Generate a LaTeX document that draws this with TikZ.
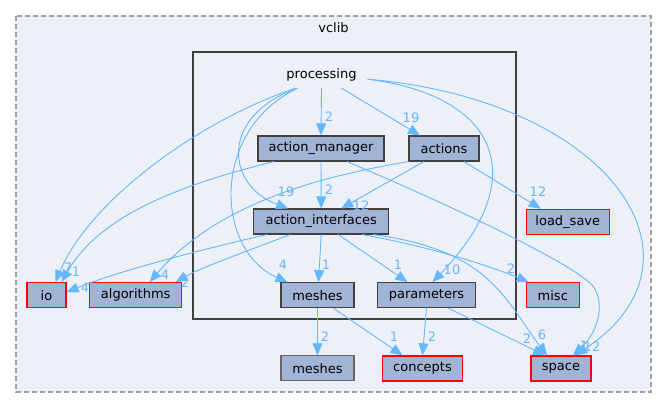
\documentclass[tikz,border=0pt]{standalone}
\usepackage{fontspec}
\setmainfont{DejaVu Sans}
\usetikzlibrary{arrows.meta}
\definecolor{edgec}{HTML}{63B8FF}
\definecolor{nodefill}{HTML}{A2B4D6}
\definecolor{clusterfill}{HTML}{EDF0F7}
\definecolor{darkb}{HTML}{404040}
\definecolor{dashc}{HTML}{A0A0A0}
\begin{document}
\begin{tikzpicture}[x=1pt,y=-1pt,
  dirnode/.style={draw=darkb, fill=nodefill, line width=1.1pt, minimum height=25pt, inner sep=0pt, font=\fontsize{13}{15}\selectfont, text=black},
  rednode/.style={dirnode, draw=red, line width=1.3pt},
  dep/.style={draw=edgec, line width=0.9pt, -{Triangle[length=12pt,width=10pt]}},
  lbl/.style={text=edgec, font=\fontsize{13}{15}\selectfont, inner sep=0pt}]
\useasboundingbox (0,0) rectangle (668,408);
\draw[dashc, dash pattern=on 5pt off 3pt, line width=1.3pt, fill=clusterfill] (16,16) rectangle (651,392);
\node[font=\fontsize{13}{15}\selectfont] (vclib) at (333.5,28) {vclib};
\draw[darkb, line width=2pt, fill=clusterfill] (193,52) rectangle (516,319);
\node[font=\fontsize{13}{15}\selectfont, minimum height=26pt, inner sep=0pt] (proc) at (321.5,75) {processing};
% nodes
\node[dirnode, minimum width=126pt] (am) at (321,148.5) {action\_manager};
\node[dirnode, minimum width=70pt] (act) at (444,148.5) {actions};
\node[dirnode, minimum width=135pt] (ai) at (321.2,221.5) {action\_interfaces};
\node[dirnode, minimum width=73pt] (mi) at (317.5,295.2) {meshes};
\node[dirnode, minimum width=98pt] (par) at (426.5,295.2) {parameters};
\node[rednode, minimum width=39pt] (io) at (46.5,295.2) {io};
\node[rednode, minimum width=92pt] (alg) at (135.7,295.2) {algorithms};
\node[rednode, minimum width=83pt] (ls) at (567.8,221.8) {load\_save};
\node[rednode, minimum width=53pt] (misc) at (552.8,295.2) {misc};
\node[dirnode, draw=darkb!80, minimum width=73pt] (mo) at (317.5,368.3) {meshes};
\node[rednode, minimum width=80pt] (con) at (422.5,368.5) {concepts};
\node[rednode, minimum width=60pt] (sp) at (561,368.5) {space};
% edges
\draw[dep] (proc.south) -- (am.north);
\draw[dep] ([xshift=20pt]proc.south) -- ([xshift=-24pt]act.north);
\draw[dep] ([xshift=-24pt]proc.south) .. controls (220,115) and (225,185) .. ([xshift=-33pt]ai.north);
\draw[dep] ([xshift=-24pt]proc.south) .. controls (210,130) and (215,250) .. ([xshift=-30pt]mi.north);
\draw[dep] ([xshift=-26pt]proc.south) .. controls (200,120) and (90,200) .. ([xshift=9pt]io.north);
\draw[dep] ([xshift=46pt,yshift=9pt]proc.south) .. controls (495,95) and (535,175) .. ([xshift=6pt]par.north);
\draw[dep] ([xshift=46pt,yshift=9pt]proc.south) .. controls (610,100) and (720,260) .. ([xshift=14pt]sp.north);
\draw[dep] ([xshift=-47pt]am.south) .. controls (180,185) and (100,215) .. ([xshift=15pt]io.north);
\draw[dep] (am.south) -- (ai.north);
\draw[dep] ([xshift=26pt]am.south) .. controls (450,205) and (570,262) .. (592,285) .. controls (605,300) and (600,330) .. ([xshift=12pt]sp.north);
\draw[dep] ([xshift=-20pt]act.south) -- ([xshift=20pt]ai.north);
\draw[dep] (act.south west) .. controls (330,175) and (220,200) .. ([xshift=14pt]alg.north);
\draw[dep] ([xshift=20pt]act.south) -- ([xshift=-27pt]ls.north);
\draw[dep] ([xshift=-54pt]ai.south) .. controls (220,245) and (120,270) .. ([yshift=3pt]io.east);
\draw[dep] ([xshift=-31pt]ai.south) .. controls (250,250) and (200,268) .. ([xshift=40pt]alg.north);
\draw[dep] (ai.south) -- ([xshift=1pt]mi.north);
\draw[dep] ([xshift=17pt]ai.south) -- ([xshift=-19pt]par.north);
\draw[dep] ([xshift=41pt]ai.south) .. controls (420,245) and (480,262) .. ([xshift=3pt]misc.north west);
\draw[dep] ([xshift=52pt]ai.south) .. controls (490,250) and (505,300) .. ([xshift=-14pt]sp.north);
\draw[dep] ([xshift=16pt]mi.south) -- ([xshift=-20pt]con.north);
\draw[dep] (mi.south) -- (mo.north);
\draw[dep] (par.south) -- (con.north);
\draw[dep] ([xshift=22pt]par.south) -- ([xshift=-16pt]sp.north);
% labels
\node[lbl] (l1) at (329,117) {2};
\node[lbl] (l2) at (411,118) {19};
\node[lbl] (l3) at (286,192) {19};
\node[lbl] (l4) at (283,265) {4};
\node[lbl] (l5) at (68,268) {7};
\node[lbl] (l6) at (76,272) {1};
\node[lbl] (l7) at (85,288) {4};
\node[lbl] (l8) at (452,270) {10};
\node[lbl] (l9) at (584,346) {1};
\node[lbl] (l10) at (592,347) {12};
\node[lbl] (l11) at (329,190) {2};
\node[lbl] (l12) at (361,206) {12};
\node[lbl] (l13) at (165,275) {4};
\node[lbl] (l14) at (538,192) {12};
\node[lbl] (l15) at (185,283) {2};
\node[lbl] (l16) at (326,265) {1};
\node[lbl] (l17) at (398,265) {1};
\node[lbl] (l18) at (511,269) {2};
\node[lbl] (l19) at (542,335) {6};
\node[lbl] (l20) at (394,337) {1};
\node[lbl] (l21) at (325,337) {2};
\node[lbl] (l22) at (432,337) {2};
\node[lbl] (l23) at (527,339) {2};
\end{tikzpicture}
\end{document}
